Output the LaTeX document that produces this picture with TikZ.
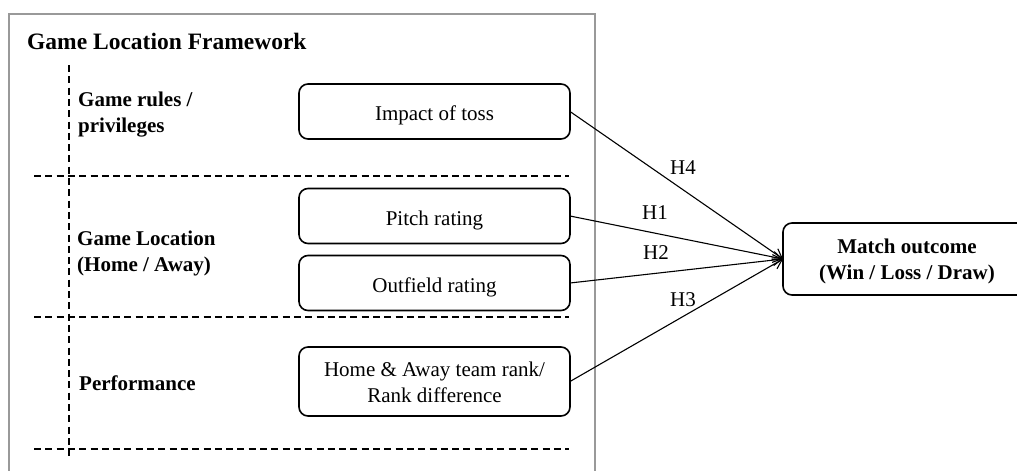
\documentclass[tikz,border=0pt]{standalone}
\usepackage{fontspec}
\setmainfont{Liberation Serif}
\usetikzlibrary{arrows.meta}
\begin{document}
\begin{tikzpicture}[x=1pt,y=-1pt,
  box/.style={draw, line width=1.6pt, rounded corners=9pt, minimum width=271pt, minimum height=55pt,
    inner sep=0pt, outer sep=0pt, align=center, font=\fontsize{21}{26}\selectfont},
  onebox/.style={box, text height=18.5pt, text depth=0.5pt},
  sect/.style={font=\bfseries\fontsize{21}{26}\selectfont, align=left, inner sep=0pt, anchor=north west},
  sepline/.style={line width=1.7pt, dash pattern=on 7pt off 4.3pt},
  link/.style={line width=1.1pt, -{Straight Barb[length=9pt,width=11pt]}},
  hyp/.style={font=\fontsize{21}{26}\selectfont, inner sep=0pt}]
\useasboundingbox (0,0) rectangle (1017,471);
\clip (0,0) rectangle (1017,471);
\draw[gray!80, line width=1.3pt] (9,14) rectangle (595,490);
\node[anchor=base west, font=\bfseries\fontsize{23.5}{28}\selectfont, inner sep=0pt] (title) at (27,49) {Game Location Framework};
% separators
\draw[sepline, line width=1.4pt] (69,65) -- (69,459);
\draw[sepline] (34,176) -- (569,176);
\draw[sepline] (34,317) -- (569,317);
\draw[sepline] (34,449) -- (569,449);
% section labels
\node[sect] (rules) at (78,91.5) {Game rules /\\privileges};
\node[sect] (loc) at (77,230.5) {Game Location\\(Home / Away)};
\node[sect, anchor=base west] (perf) at (79,390) {Performance};
% boxes
\node[onebox] (toss) at (434.5,111.5) {Impact of toss};
\node[onebox] (pitch) at (434.5,216) {Pitch rating};
\node[onebox] (outf) at (434.5,283) {Outfield rating};
\node[box, minimum height=69pt] (rank) at (434.5,381.5) {\rule{0pt}{17pt}Home \& Away team rank/\\Rank difference};
\node[box, minimum width=248pt, minimum height=72pt, font=\bfseries\fontsize{21}{26}\selectfont] (match) at (907,259) {\rule{0pt}{19pt}Match outcome\\(Win / Loss / Draw)};
% links
\draw[link] (toss.east) -- (match.west);
\draw[link] (pitch.east) -- (match.west);
\draw[link] (outf.east) -- (match.west);
\draw[link] (rank.east) -- (match.west);
\node[hyp] (h4) at (683,168) {H4};
\node[hyp] (h1) at (655,213) {H1};
\node[hyp] (h2) at (656,253) {H2};
\node[hyp] (h3) at (683,300) {H3};
\end{tikzpicture}
\end{document}
